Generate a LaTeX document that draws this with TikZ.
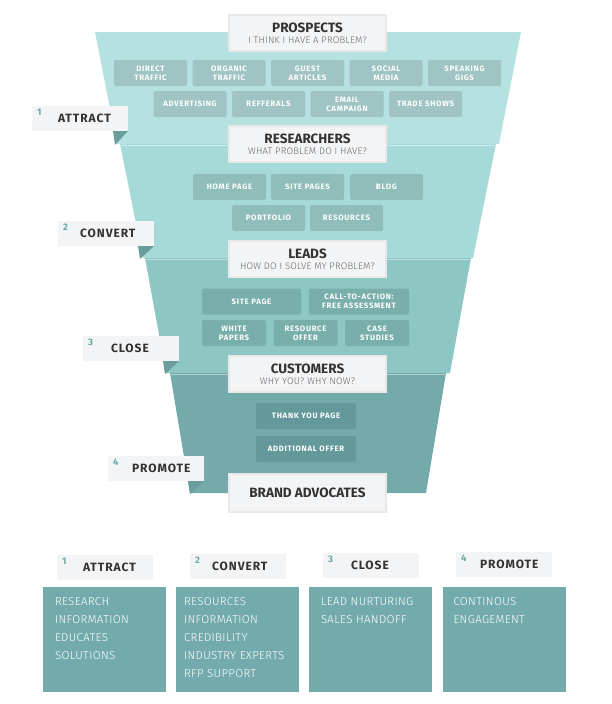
\documentclass[tikz,border=0pt]{standalone}
\usepackage{fontspec}
\setmainfont{Fira Sans}
\newfontfamily\lightfont{Fira Sans Light}
\usetikzlibrary{positioning,calc}

\definecolor{bandA}{HTML}{B5E1E1}
\definecolor{bandB}{HTML}{A6DAD8}
\definecolor{bandC}{HTML}{8CC7C3}
\definecolor{bandD}{HTML}{74ABAA}
\definecolor{chipA}{HTML}{9FC4C3}
\definecolor{chipB}{HTML}{8FBDBA}
\definecolor{chipC}{HTML}{79AFAB}
\definecolor{chipD}{HTML}{63999A}
\definecolor{labgray}{HTML}{F3F4F6}
\definecolor{inkdark}{HTML}{333333}
\definecolor{inksub}{HTML}{666666}
\definecolor{numteal}{HTML}{6AA9A8}
\definecolor{foldteal}{HTML}{6A9E9D}
\definecolor{panelteal}{HTML}{73AAAC}

\begin{document}
\begin{tikzpicture}[x=1pt, y=-1pt,
  chip/.style={rounded corners=1.5pt, align=center, text=white, inner sep=0pt,
    minimum width=73pt, minimum height=26pt,
    font=\bfseries\fontsize{7.8}{8.8}\selectfont\addfontfeature{LetterSpace=9}},
  stage/.style={draw=gray!18, line width=2pt, fill=labgray, align=center, inner sep=0pt,
    minimum width=157pt, minimum height=36pt, text=inkdark},
  sidelab/.style={fill=labgray, inner sep=0pt, minimum width=96pt, minimum height=25pt},
  labtext/.style={anchor=west, inner sep=0pt, text=inkdark,
    font=\bfseries\fontsize{12}{12}\selectfont\addfontfeature{LetterSpace=8}},
  num/.style={anchor=north west, inner sep=0pt, text=numteal, font=\bfseries\fontsize{9.5}{9.5}\selectfont},
  fold/.style={fill=foldteal},
  panel/.style={fill=panelteal, inner sep=0pt, minimum width=123pt, minimum height=105pt},
  paneltext/.style={anchor=north west, inner sep=0pt, align=left, text=white,
    font=\lightfont\fontsize{11.5}{18}\selectfont\addfontfeature{LetterSpace=3}},
  sheen/.style={white, opacity=0.45, line width=0.8pt}
]
\useasboundingbox (0,0) rectangle (612,704);

% funnel bands
\fill[bandA] (95,32) -- (521,32) -- (499,144) -- (117,144) -- cycle;
\fill[bandB] (120,144) -- (496,144) -- (473,258) -- (143,258) -- cycle;
\fill[bandC] (145,258) -- (471,258) -- (450,373) -- (166,373) -- cycle;
\fill[bandD] (170,373) -- (446,373) -- (426,493) -- (190,493) -- cycle;
\draw[sheen] (121,145) -- (495,145);
\draw[sheen] (146,259) -- (470,259);
\draw[sheen] (171,374) -- (445,374);

% band 1
\node[chip, fill=chipA] (direct) at (150.5,73) {DIRECT\\TRAFFIC};
\node[chip, fill=chipA] (organic) at (229,73) {ORGANIC\\TRAFFIC};
\node[chip, fill=chipA] (guest) at (307.5,73) {GUEST\\ARTICLES};
\node[chip, fill=chipA] (social) at (386,73) {SOCIAL\\MEDIA};
\node[chip, fill=chipA] (speaking) at (464.5,73) {SPEAKING\\GIGS};
\node[chip, fill=chipA] (advert) at (190,104) {ADVERTISING};
\node[chip, fill=chipA] (referrals) at (268.5,104) {REFFERALS};
\node[chip, fill=chipA] (email) at (347,104) {EMAIL\\CAMPAIGN};
\node[chip, fill=chipA] (trade) at (425.5,104) {TRADE SHOWS};

% band 2
\node[chip, fill=chipB] (home) at (229.5,187) {HOME PAGE};
\node[chip, fill=chipB] (sitepages) at (307.5,187) {SITE PAGES};
\node[chip, fill=chipB] (blog) at (386.5,187) {BLOG};
\node[chip, fill=chipB] (portfolio) at (268.5,218) {PORTFOLIO};
\node[chip, fill=chipB] (resources) at (346.5,218) {RESOURCES};

% band 3
\node[chip, fill=chipC, minimum width=99pt] (sitepage) at (251.5,301.5) {SITE PAGE};
\node[chip, fill=chipC, minimum width=100pt] (cta) at (359,301.5) {CALL-TO-ACTION:\\FREE ASSESSMENT};
\node[chip, fill=chipC, minimum width=64pt] (white) at (234,333) {WHITE\\PAPERS};
\node[chip, fill=chipC, minimum width=64pt] (resoffer) at (305.5,333) {RESOURCE\\OFFER};
\node[chip, fill=chipC, minimum width=64pt] (case) at (377,333) {CASE\\STUDIES};

% band 4
\node[chip, fill=chipD, minimum width=100pt] (thanks) at (306,416) {THANK YOU PAGE};
\node[chip, fill=chipD, minimum width=100pt] (addoffer) at (306,449) {ADDITIONAL OFFER};

% stage boxes
\node[stage] (prospects) at (307.5,33) {{\bfseries\fontsize{13.5}{14}\selectfont PROSPECTS}\\[-1pt]{\color{inksub}\lightfont\fontsize{9.5}{10}\selectfont\addfontfeature{LetterSpace=2} I THINK I HAVE A PROBLEM?}};
\node[stage] (researchers) at (307.5,144) {{\bfseries\fontsize{13.5}{14}\selectfont RESEARCHERS}\\[-1pt]{\color{inksub}\lightfont\fontsize{9.5}{10}\selectfont\addfontfeature{LetterSpace=2} WHAT PROBLEM DO I HAVE?}};
\node[stage] (leads) at (307.5,259) {{\bfseries\fontsize{13.5}{14}\selectfont LEADS}\\[-1pt]{\color{inksub}\lightfont\fontsize{9.5}{10}\selectfont\addfontfeature{LetterSpace=2} HOW DO I SOLVE MY PROBLEM?}};
\node[stage] (customers) at (307.5,374) {{\bfseries\fontsize{13.5}{14}\selectfont CUSTOMERS}\\[-1pt]{\color{inksub}\lightfont\fontsize{9.5}{10}\selectfont\addfontfeature{LetterSpace=2} WHY YOU? WHY NOW?}};
\node[stage, minimum height=38pt] (advocates) at (307.5,493) {{\bfseries\fontsize{13.5}{14}\selectfont BRAND ADVOCATES}};

% side labels with folds
\fill[fold] (113,131) -- (128,131) -- (115,145) -- cycle;
\node[sidelab] (attract) at (80,118.5) {};
\node[num] at ([xshift=5pt,yshift=-3pt]attract.north west) {1};
\node[labtext] at ([xshift=26pt]attract.west) {ATTRACT};

\fill[fold] (138,246) -- (154,246) -- (140,259) -- cycle;
\node[sidelab] (convert) at (106,233.5) {};
\node[num] at ([xshift=5pt,yshift=-3pt]convert.north west) {2};
\node[labtext] at ([xshift=22pt]convert.west) {CONVERT};

\fill[fold] (163,361) -- (179,361) -- (165,374) -- cycle;
\node[sidelab] (close) at (131,348.5) {};
\node[num] at ([xshift=5pt,yshift=-3pt]close.north west) {3};
\node[labtext] at ([xshift=28pt]close.west) {CLOSE};

\fill[fold] (188,481) -- (204,481) -- (190,494) -- cycle;
\node[sidelab] (promote) at (156,468.5) {};
\node[num] at ([xshift=5pt,yshift=-3pt]promote.north west) {4};
\node[labtext] at ([xshift=24pt]promote.west) {PROMOTE};

% summary panels
\node[sidelab] (attractkey) at (105,567.5) {};
\node[num] at ([xshift=5pt,yshift=-3pt]attractkey.north west) {1};
\node[labtext] at ([xshift=26pt]attractkey.west) {ATTRACT};
\node[panel] (attractpanel) at (104.5,639.5) {};
\node[paneltext] at ([xshift=12pt,yshift=-10pt]attractpanel.north west) {RESEARCH\\INFORMATION\\EDUCATES\\SOLUTIONS};

\node[sidelab] (convertkey) at (238,566.5) {};
\node[num] at ([xshift=5pt,yshift=-3pt]convertkey.north west) {2};
\node[labtext] at ([xshift=22pt]convertkey.west) {CONVERT};
\node[panel] (convertpanel) at (237.5,639.5) {};
\node[paneltext] at ([xshift=8pt,yshift=-10pt]convertpanel.north west) {RESOURCES\\INFORMATION\\CREDIBILITY\\INDUSTRY EXPERTS\\RFP SUPPORT};

\node[sidelab] (closekey) at (371,565.5) {};
\node[num] at ([xshift=5pt,yshift=-3pt]closekey.north west) {3};
\node[labtext] at ([xshift=28pt]closekey.west) {CLOSE};
\node[panel] (closepanel) at (370.5,639.5) {};
\node[paneltext] at ([xshift=12pt,yshift=-10pt]closepanel.north west) {LEAD NURTURING\\SALES HANDOFF};

\node[sidelab] (promotekey) at (504,564.5) {};
\node[num] at ([xshift=5pt,yshift=-3pt]promotekey.north west) {4};
\node[labtext] at ([xshift=24pt]promotekey.west) {PROMOTE};
\node[panel] (promotepanel) at (504,639.5) {};
\node[paneltext] at ([xshift=11pt,yshift=-10pt]promotepanel.north west) {CONTINOUS\\ENGAGEMENT};

\end{tikzpicture}
\end{document}
